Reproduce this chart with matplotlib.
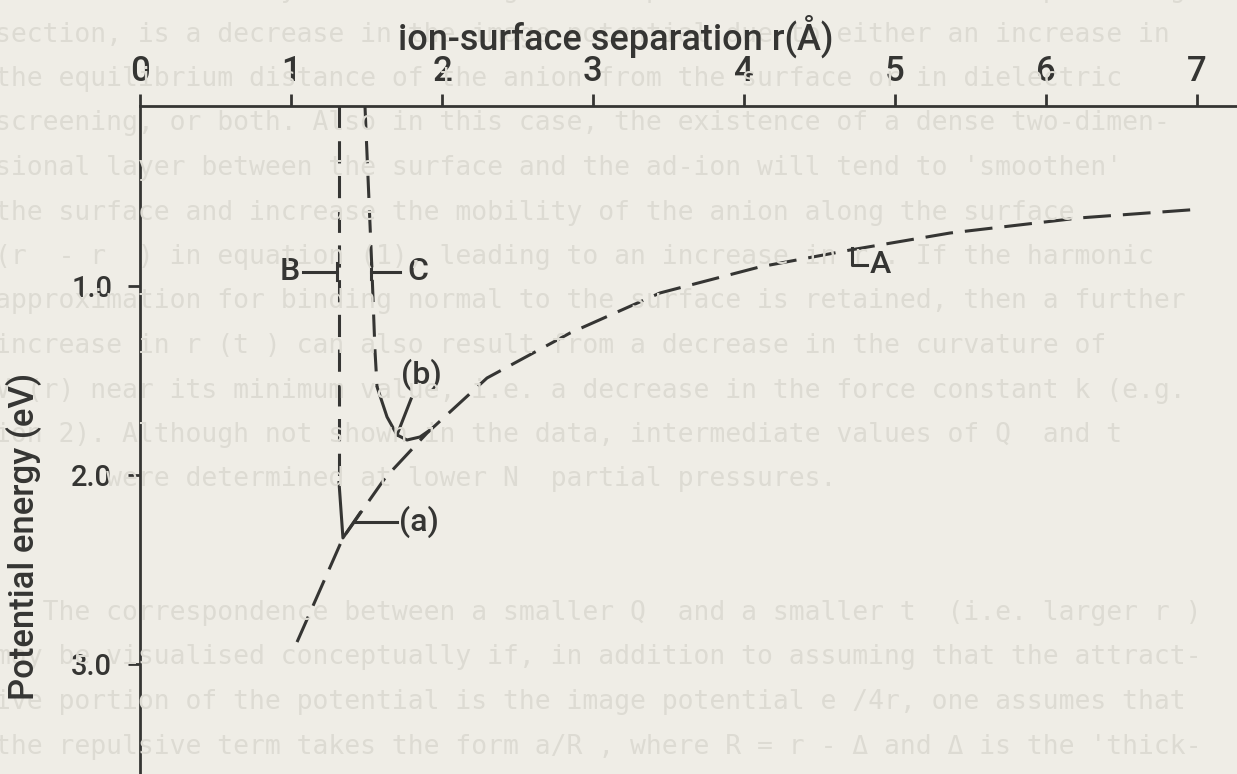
import matplotlib.pyplot as plt

# ion-surface potential energy diagram
plt.rcParams["lines.scale_dashes"] = False
plt.rcParams["font.family"] = ["Roboto", "DejaVu Sans"]
plt.rcParams["font.weight"] = "medium"

INK = "#353533"
PAPER = "#efede6"
FAINT = "#dddbd3"

# curve A: attractive (image) branch, dashed
a_r = [1.04, 1.344, 1.623, 1.901, 2.298, 2.848, 3.444, 4.106, 4.702, 5.364, 6.225, 7.033]
a_e = [2.884, 2.333, 2.016, 1.778, 1.487, 1.249, 1.037, 0.899, 0.810, 0.720, 0.640, 0.593]

# curve B: repulsive wall, dashed then solid into minimum (a)
b_dash_r = [1.318, 1.318]
b_dash_e = [0.05, 2.04]
b_solid_r = [1.318, 1.344, 1.457]
b_solid_e = [2.04, 2.333, 2.201]

# curve C: repulsive wall, dashed then solid into minimum (b)
c_dash_r = [1.49, 1.536, 1.556, 1.570]
c_dash_e = [0.05, 0.915, 1.339, 1.534]
c_solid_r = [1.570, 1.636, 1.702, 1.768, 1.854, 1.921]
c_solid_e = [1.534, 1.693, 1.788, 1.815, 1.799, 1.762]

x_ticks = [0, 1, 2, 3, 4, 5, 6, 7]
y_ticks = [1.0, 2.0, 3.0]
y_tick_labels = ["1.0", "2.0", "3.0"]

page_lines = [
    "used to causes only a small change in comparison with that in the preceding",
    "section, is a decrease in the image potential due to either an increase in",
    "the equilibrium distance of the anion from the surface or in dielectric",
    "screening, or both. Also in this case, the existence of a dense two-dimen-",
    "sional layer between the surface and the ad-ion will tend to 'smoothen'",
    "the surface and increase the mobility of the anion along the surface",
    "(r  - r  ) in equation (1), leading to an increase in r . If the harmonic",
    "approximation for binding normal to the surface is retained, then a further",
    "increase in r (t ) can also result from a decrease in the curvature of",
    "V (r) near its minimum value, i.e. a decrease in the force constant k (e.g.",
    "ion 2). Although not shown in the data, intermediate values of Q  and t",
    "       were determined at lower N  partial pressures.",
    "",
    "",
    "   The correspondence between a smaller Q  and a smaller t  (i.e. larger r )",
    "may be visualised conceptually if, in addition to assuming that the attract-",
    "ive portion of the potential is the image potential e /4r, one assumes that",
    "the repulsive term takes the form a/R , where R = r - \u0394 and \u0394 is the 'thick-",
]

fig = plt.figure(figsize=(12.37, 7.74), dpi=100)
fig.patch.set_facecolor(PAPER)

# faint page text behind the figure
for i, line in enumerate(page_lines):
    y_px = -10 + 44.5 * i
    fig.text(-0.004, 1 - y_px / 774, line, family="DejaVu Sans Mono", fontsize=19,
             weight="normal", color=FAINT, ha="left", va="center", zorder=0)

ax = fig.add_axes([140 / 1237, 0, 1097 / 1237, 1 - 106 / 774])
ax.set_facecolor("none")
ax.set_xlim(0, 1097 / 151)
ax.set_ylim(3.582, 0.048)

for side in ["right", "bottom"]:
    ax.spines[side].set_visible(False)
for side in ["top", "left"]:
    ax.spines[side].set_linewidth(2.0)
    ax.spines[side].set_color(INK)

ax.xaxis.tick_top()
ax.set_xticks(x_ticks)
ax.set_yticks(y_ticks)
ax.set_yticklabels(y_tick_labels)
ax.tick_params(axis="x", direction="out", length=9, width=2, color=INK,
               labelsize=25, labelcolor=INK, pad=4)
ax.tick_params(axis="y", direction="out", length=9, width=2, color=INK,
               labelsize=21, labelcolor=INK, pad=11)

fig.text(616 / 1237, 1 - 50 / 774, "ion-surface separation r(\u00c5)", fontsize=26,
         color=INK, ha="center", va="baseline")
fig.text(24 / 1237, 1 - 536 / 774, "Potential energy (eV)", fontsize=25,
         color=INK, ha="center", va="center", rotation=90)

dash = (0, (20, 8.6))
lw = 2.2
ax.plot(a_r, a_e, color=INK, lw=lw, linestyle=dash)
ax.plot(b_dash_r, b_dash_e, color=INK, lw=lw, linestyle=(0, (16, 9)))
ax.plot(b_solid_r, b_solid_e, color=INK, lw=lw)
ax.plot(c_dash_r, c_dash_e, color=INK, lw=lw, linestyle=(0, (16, 9)))
ax.plot(c_solid_r, c_solid_e, color=INK, lw=lw, solid_capstyle="round")

lab = dict(fontsize=23, color=INK, va="center")

# B and C markers
ax.plot([1.079, 1.305], [0.926, 0.926], color=INK, lw=lw)
ax.plot([1.305, 1.305], [0.878, 0.968], color=INK, lw=lw)
ax.text(0.995, 0.926, "B", ha="center", **lab)
ax.plot([1.530, 1.722], [0.926, 0.926], color=INK, lw=lw)
ax.plot([1.530, 1.530], [0.878, 0.963], color=INK, lw=lw)
ax.text(1.840, 0.926, "C", ha="center", **lab)

# A marker
ax.plot([4.715, 4.715, 4.815], [0.799, 0.889, 0.889], color=INK, lw=lw)
ax.text(4.905, 0.889, "A", ha="center", **lab)

# (a) and (b) pointers
ax.plot([1.424, 1.702], [2.249, 2.249], color=INK, lw=lw)
ax.text(1.715, 2.249, "(a)", ha="left", **lab)
ax.plot([1.702, 1.795], [1.788, 1.598], color=INK, lw=lw)
ax.text(1.861, 1.471, "(b)", ha="center", **lab)

fig.savefig("out.png", dpi=100, facecolor=PAPER)
